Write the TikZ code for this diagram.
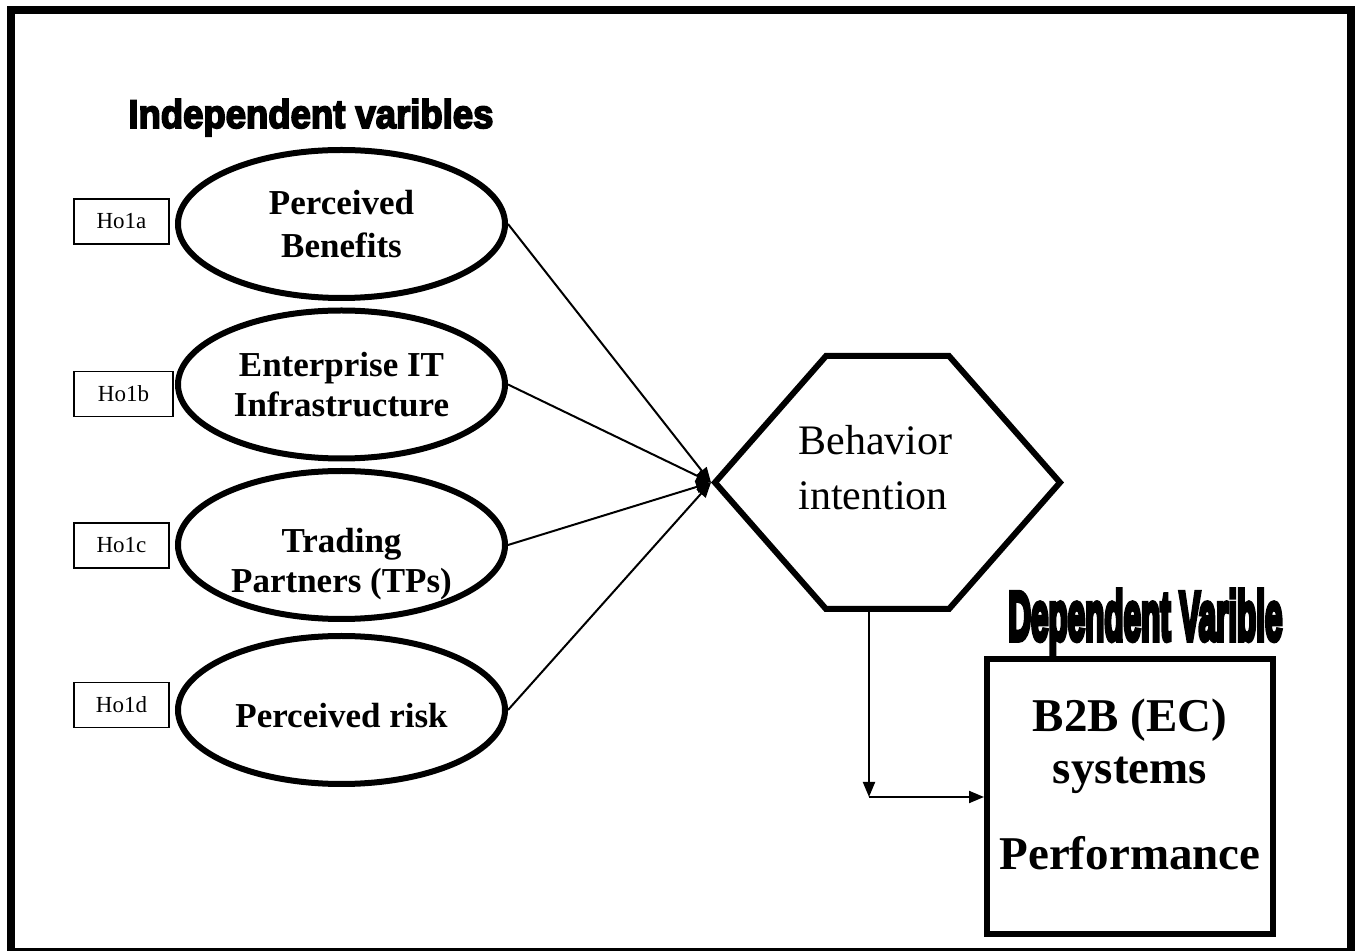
\documentclass[tikz,border=0pt]{standalone}
\usepackage{fontspec}
\setmainfont{Liberation Serif}
\newfontfamily\heavyfont[BoldFeatures={FakeBold=4.5}]{Liberation Sans}
\newfontfamily\heavierfont[BoldFeatures={FakeBold=8}]{Liberation Sans}
\usetikzlibrary{shapes.geometric,arrows.meta}
\begin{document}
\begin{tikzpicture}[x=0.5pt,y=-0.5pt,
  oval/.style={draw,ellipse,line width=3pt,minimum width=163.5pt,minimum height=74pt,inner sep=0pt},
  hobox/.style={draw,line width=0.6pt,minimum width=47.5pt,minimum height=22.5pt,inner sep=0pt,font=\fontsize{11.5}{13}\selectfont},
  ovaltxt/.style={anchor=base,inner sep=0pt,font=\fontsize{17.5}{21}\selectfont\bfseries},
  hextxt/.style={anchor=base west,inner sep=0pt,font=\fontsize{21}{25}\selectfont},
  boxtxt/.style={anchor=base,inner sep=0pt,font=\fontsize{23.5}{28}\selectfont\bfseries},
  heading/.style={anchor=base west,inner sep=0pt},
  link/.style={line width=1pt,-{Triangle[length=7.5pt,width=6pt]}},
  thick frame/.style={line width=4pt,line join=miter}
]
\useasboundingbox (0,0) rectangle (1356,951);
% frame
\draw[thick frame] (11,955) -- (11,10.5) -- (1351,10.5) -- (1351,955);
\draw[line width=1pt] (11,949.5) -- (1351,949.5);

% headings
\node[heading] (indep) at (128,128) {\resizebox{182.5pt}{14.5pt}{\heavyfont\bfseries Independent varibles}};
\node[heading] (dep) at (1008,640) {\resizebox{137pt}{25pt}{\heavierfont\bfseries Dependent Varible}};

% ellipses
\node[oval] (pb) at (341.5,224) {};
\node[oval] (eit) at (341.5,384.5) {};
\node[oval] (tp) at (341.5,545) {};
\node[oval] (pr) at (341.5,710) {};

\node[ovaltxt] (pbA) at (341.5,215) {Perceived};
\node[ovaltxt] (pbB) at (341.5,258) {Benefits};
\node[ovaltxt] (eitA) at (341.5,377) {Enterprise IT};
\node[ovaltxt] (eitB) at (341.5,417) {Infrastructure};
\node[ovaltxt] (tpA) at (341.5,553) {Trading};
\node[ovaltxt] (tpB) at (341.5,593) {Partners (TPs)};
\node[ovaltxt] (prA) at (341.5,728) {Perceived risk};

% hypothesis boxes
\node[hobox] (h1) at (121.5,221.5) {Ho1a};
\node[hobox,minimum width=49.5pt] (h2) at (123.5,394) {Ho1b};
\node[hobox] (h3) at (121.5,545.5) {Ho1c};
\node[hobox] (h4) at (121.5,705) {Ho1d};

% hexagon
\draw[line width=3pt,line join=miter] (715,482.5) -- (826,356) -- (949,356) -- (1060,482.5) -- (949,609) -- (826,609) -- cycle;
\coordinate (biw) at (711,482.5);
\coordinate (bib) at (869,609);
\node[hextxt] (biA) at (798,455) {Behavior};
\node[hextxt] (biB) at (798,510) {intention};

% dependent box
\node[draw,line width=3pt,minimum width=143pt,minimum height=137.5pt,inner sep=0pt] (b2b) at (1130,797) {};
\node[boxtxt] (b2bA) at (1130,732) {B2B (EC)};
\node[boxtxt] (b2bB) at (1130,784) {systems};
\node[boxtxt] (b2bC) at (1130,870) {Performance};

% connectors
\draw[link] (pb.east) -- (biw);
\draw[link] (eit.east) -- (biw);
\draw[link] (tp.east) -- (biw);
\draw[link] (pr.east) -- (biw);
\coordinate (turn) at (869,797);
\draw[link] (bib) -- (turn);
\draw[link] (turn) -- (b2b.west);
\end{tikzpicture}
\end{document}
